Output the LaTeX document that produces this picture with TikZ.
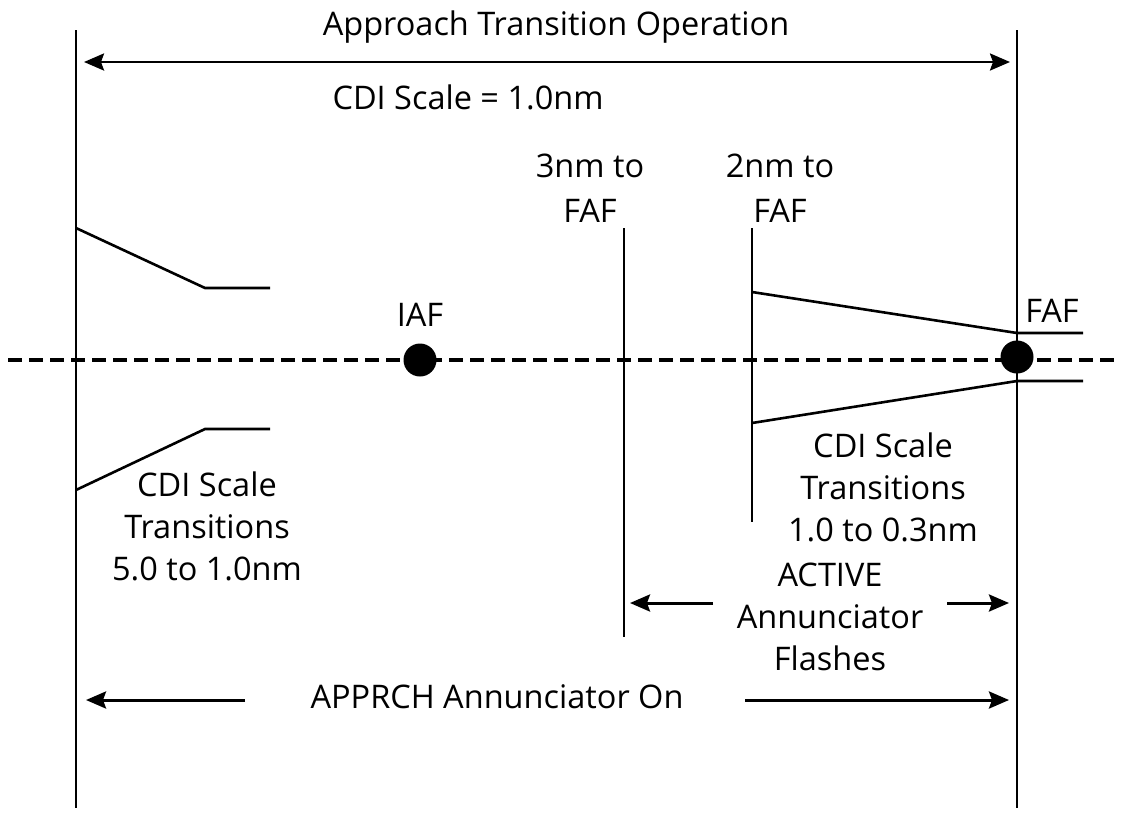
\documentclass[tikz,border=0pt]{standalone}
\usepackage{fontspec}
\setmainfont{Open Sans}
\usetikzlibrary{arrows.meta}
\begin{document}
\begin{tikzpicture}[x=1pt,y=-1pt,
  lbl/.style={font=\fontsize{32.5}{42}\selectfont, align=center, inner sep=0pt},
  thin line/.style={line width=2pt},
  edge line/.style={line width=2.6pt},
  arr/.style={line width=3pt, -{Stealth[length=20pt,width=17pt,inset=3pt]}},
  darr/.style={line width=2.6pt, {Stealth[length=20pt,width=17pt,inset=3pt]}-{Stealth[length=20pt,width=17pt,inset=3pt]}},
  dot/.style={circle, fill=black, minimum size=33pt, inner sep=0pt},
  center line/.style={line width=4.8pt, dash pattern=on 14pt off 7pt}]
\useasboundingbox (0,0) rectangle (1121,815);
% coordinates
\coordinate (Ltop) at (76,30); \coordinate (Lbot) at (76,808);
\coordinate (Rtop) at (1017,30); \coordinate (Rbot) at (1017,808);
\draw[thin line] (Ltop) -- (Lbot);
\draw[thin line] (Rtop) -- (Rbot);
% top arrow
\coordinate (TA1) at (84,62); \coordinate (TA2) at (1010,62);
\draw[darr] (TA1) -- (TA2);
\node[lbl] (title) at (556,27) {Approach Transition Operation};
\node[lbl] (cdi) at (468,97) {CDI Scale = 1.0nm};
% center line
\coordinate (C1) at (8,360); \coordinate (C2) at (1121,360);
\draw[center line] (C1) -- (C2);
\node[dot] (iaf) at (420,360) {};
\node[lbl] (iaflbl) at (420,315) {IAF};
\node[dot] (faf) at (1017,357) {};
\node[lbl] (faflbl) at (1052,311) {FAF};
% vertical markers
\coordinate (V3a) at (624,228); \coordinate (V3b) at (624,637);
\coordinate (V2a) at (752,228); \coordinate (V2b) at (752,522);
\draw[thin line] (V3a) -- (V3b);
\draw[thin line] (V2a) -- (V2b);
\node[lbl, font=\fontsize{32.5}{45}\selectfont] (n3) at (590,188) {3nm to\\FAF};
\node[lbl, font=\fontsize{32.5}{45}\selectfont] (n2) at (780,188) {2nm to\\FAF};
% left transitions
\coordinate (LU1) at (76,228); \coordinate (LU2) at (205,288); \coordinate (LU3) at (270,288);
\coordinate (LL1) at (76,490); \coordinate (LL2) at (205,429); \coordinate (LL3) at (270,429);
\draw[edge line] (LU1) -- (LU2) -- (LU3);
\draw[edge line] (LL1) -- (LL2) -- (LL3);
\node[lbl] (ltxt) at (207,526) {CDI Scale\\Transitions\\5.0 to 1.0nm};
% right transitions
\coordinate (RU1) at (752,292); \coordinate (RU2) at (1017,333); \coordinate (RU3) at (1083,333);
\coordinate (RL1) at (752,423); \coordinate (RL2) at (1017,381); \coordinate (RL3) at (1083,381);
\draw[edge line] (RU1) -- (RU2) -- (RU3);
\draw[edge line] (RL1) -- (RL2) -- (RL3);
\node[lbl] (rtxt) at (883,487) {CDI Scale\\Transitions\\1.0 to 0.3nm};
% active annunciator
\coordinate (A1s) at (713,603); \coordinate (A1e) at (630,603);
\coordinate (A2s) at (947,603); \coordinate (A2e) at (1009,603);
\draw[arr] (A1s) -- (A1e);
\draw[arr] (A2s) -- (A2e);
\node[lbl] (act) at (830,617) {ACTIVE\\Annunciator\\Flashes};
% apprch annunciator
\coordinate (B1s) at (245,700); \coordinate (B1e) at (86,700);
\coordinate (B2s) at (745,700); \coordinate (B2e) at (1009,700);
\draw[arr] (B1s) -- (B1e);
\draw[arr] (B2s) -- (B2e);
\node[lbl] (appr) at (497,697) {APPRCH Annunciator On};
\end{tikzpicture}
\end{document}
